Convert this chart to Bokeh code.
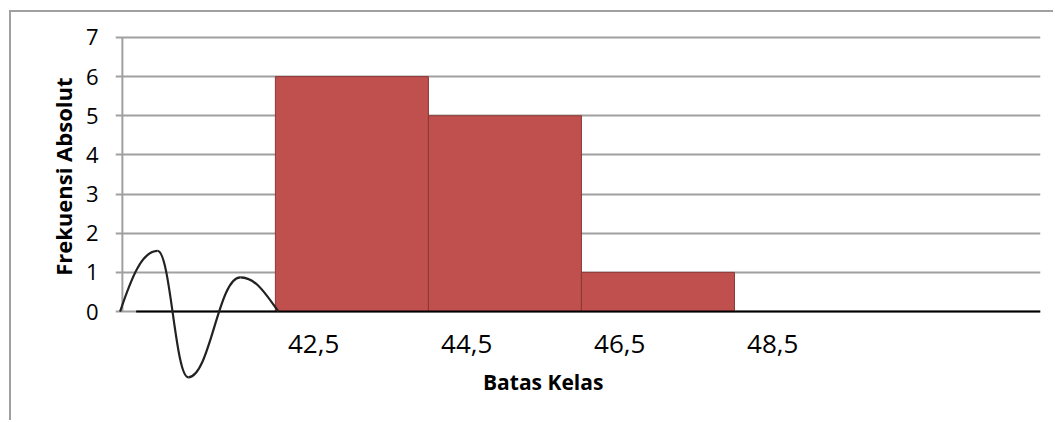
from bokeh.plotting import figure
from bokeh.models import ColumnDataSource, FixedTicker, Range1d, Title
from bokeh.core.properties import value
from bokeh.embed import file_html
from bokeh.resources import INLINE

# Class boundaries and absolute frequencies of the histogram
class_edges = [42.5, 44.5, 46.5, 48.5]
frequencies = [6, 5, 1]
edge_labels = ["42,5", "44,5", "46,5", "48,5"]
y_ticks = [0, 1, 2, 3, 4, 5, 6, 7]

# Axis-break squiggle drawn before the first class (waypoints in data units)
squiggle_x = [40.47, 40.96, 41.36, 42.04, 42.54]
squiggle_y = [0.0, 1.55, -1.68, 0.87, 0.0]

FONT = "Open Sans"
GRID = "#a0a0a0"

p = figure(
    width=1044, height=410,
    x_range=Range1d(40.41, 52.5), y_range=Range1d(-2.4, 7.05),
    x_axis_location=None,
    output_backend="svg", toolbar_location=None,
    min_border_left=104, min_border_right=15,
    min_border_top=23, min_border_bottom=17,
)
# chart area border (left and top edges show inside the window)
p.styles = {
    "margin-left": "9px", "margin-top": "10px",
    "border-left": f"2px solid {GRID}", "border-top": f"2px solid {GRID}",
}
p.outline_line_color = None
p.background_fill_color = "white"
p.border_fill_color = "white"

# Left axis: labels only, gridlines carry the horizontal rules
p.yaxis.ticker = FixedTicker(ticks=y_ticks)
p.yaxis.axis_line_color = None
p.yaxis.major_tick_line_color = None
p.yaxis.minor_tick_line_color = None
p.yaxis.major_tick_out = 0
p.yaxis.major_tick_in = 0
p.yaxis.major_label_standoff = 17
p.yaxis.major_label_text_font = FONT
p.yaxis.major_label_text_font_size = "22px"
p.yaxis.major_label_text_color = "black"

p.add_layout(Title(text="Frekuensi Absolut", align="right", offset=42,
                   text_font=FONT, text_font_size="22px", text_font_style="bold",
                   text_color="black", standoff=10), "left")

p.ygrid.ticker = FixedTicker(ticks=y_ticks)
p.ygrid.grid_line_color = GRID
p.ygrid.grid_line_width = 2
p.xgrid.grid_line_color = None

# vertical axis rule from 0 to the top tick
p.segment(x0=[class_edges[0] - 2], y0=[y_ticks[0]], x1=[class_edges[0] - 2], y1=[y_ticks[-1]],
          line_color=GRID, line_width=2)

# histogram bars
bars = ColumnDataSource(dict(
    left=class_edges[:-1], right=class_edges[1:],
    top=frequencies, bottom=[0] * len(frequencies),
))
p.quad(left="left", right="right", top="top", bottom="bottom", source=bars,
       fill_color="#c0504d", line_color="#8c3836", line_width=1)

# horizontal axis line
p.segment(x0=[40.68], y0=[0], x1=[52.5], y1=[0], line_color="black", line_width=2)

# squiggle built from cubic segments, rounded at the turning points
x0s, y0s, x1s, y1s, cx0, cy0, cx1, cy1 = [], [], [], [], [], [], [], []
n = len(squiggle_x)
for i in range(n - 1):
    xa, ya, xb, yb = squiggle_x[i], squiggle_y[i], squiggle_x[i + 1], squiggle_y[i + 1]
    dx = xb - xa
    x0s.append(xa); y0s.append(ya); x1s.append(xb); y1s.append(yb)
    if i == 0:
        cx0.append(xa + 0.3 * dx); cy0.append(ya + 0.55 * (yb - ya))
    else:
        cx0.append(xa + 0.42 * dx); cy0.append(ya)
    if i == n - 2:
        cx1.append(xb - 0.33 * dx); cy1.append(yb + 0.5 * (ya - yb))
    else:
        cx1.append(xb - 0.42 * dx); cy1.append(yb)
p.bezier(x0=x0s, y0=y0s, x1=x1s, y1=y1s, cx0=cx0, cy0=cy0, cx1=cx1, cy1=cy1,
         line_color="#222222", line_width=2.2)

# class boundary labels under the axis
p.text(x=[e + 0.5 for e in class_edges], y=[-0.82] * len(class_edges), text=edge_labels,
       text_font=value(FONT), text_font_size="26px", text_color="black",
       text_align="center", text_baseline="middle")

# horizontal axis title
p.text(x=[46.0], y=[-1.79], text=["Batas Kelas"],
       text_font=value(FONT), text_font_size="21px", text_font_style="bold",
       text_color="black", text_align="center", text_baseline="middle")

open("out.html", "w").write(file_html(p, INLINE))
